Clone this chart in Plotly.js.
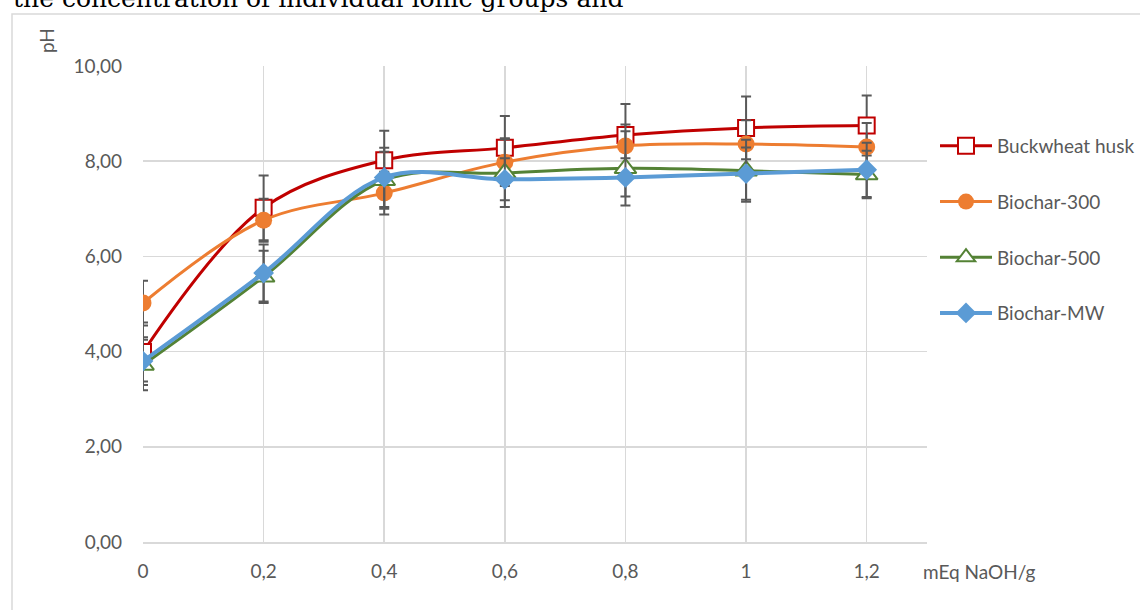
<!DOCTYPE html>
<html>
<head>
<meta charset="utf-8">
<script src="https://cdn.plot.ly/plotly-3.0.1.min.js"></script>
<style>html,body{margin:0;padding:0;background:#fff;}#chart{width:1140px;height:610px;}</style>
</head>
<body>
<div id="chart"></div>
<script>
// Data
const xValues = [0, 0.2, 0.4, 0.6, 0.8, 1, 1.2];
const seriesNames = ["Buckwheat husk", "Biochar-300", "Biochar-500", "Biochar-MW"];
const buckwheat = [3.99, 7.02, 8.02, 8.28, 8.55, 8.70, 8.75];
const buckwheatErr = [0.62, 0.68, 0.62, 0.67, 0.65, 0.66, 0.63];
const biochar300 = [5.02, 6.76, 7.33, 7.98, 8.32, 8.36, 8.30];
const biochar300Err = [0.47, 0.45, 0.45, 0.50, 0.45, 0.50, 0.50];
const biochar500 = [3.72, 5.57, 7.60, 7.75, 7.85, 7.80, 7.72];
const biochar500Err = [0.53, 0.55, 0.60, 0.71, 0.78, 0.65, 0.50];
const biocharMW = [3.80, 5.65, 7.66, 7.62, 7.66, 7.74, 7.82];
const biocharMWErr = [0.50, 0.60, 0.62, 0.44, 0.40, 0.55, 0.57];
const yTicks = [0, 2, 4, 6, 8, 10];
const xTicks = [0, 0.2, 0.4, 0.6, 0.8, 1, 1.2];

const FONT = "Lato, 'Open Sans', sans-serif";
const TXT = "#595959";
const W = 1140, H = 610;
const L = 143, R = 927, T = 66, B = 542;
const px = v => (v - L) / (R - L);
const py = v => (B - v) / (B - T);

function errCfg(arr) {
  return {type: "data", array: arr, visible: true, color: "#595959", thickness: 2, width: 5};
}

const traces = [
  {x: xValues, y: buckwheat, name: seriesNames[0], legendgroup: "a",
   mode: "lines+markers", line: {color: "#C00000", width: 3, shape: "spline", smoothing: 1},
   marker: {symbol: "square", size: 16, color: "#ffffff", line: {color: "#C00000", width: 2}},
   error_y: errCfg(buckwheatErr)},
  {x: xValues, y: biochar300, name: seriesNames[1], legendgroup: "b",
   mode: "lines+markers", line: {color: "#ED7D31", width: 3, shape: "spline", smoothing: 1},
   marker: {symbol: "circle", size: 17, color: "#ED7D31", line: {width: 0}},
   error_y: errCfg(biochar300Err)},
  {x: xValues, y: biochar500, name: seriesNames[2], legendgroup: "c",
   mode: "lines+markers", line: {color: "#548235", width: 3, shape: "spline", smoothing: 1},
   marker: {symbol: "triangle-up", size: 19, color: "#ffffff", line: {color: "#548235", width: 2}},
   error_y: errCfg(biochar500Err)},
  {x: xValues, y: biocharMW, name: seriesNames[3], legendgroup: "d",
   mode: "lines+markers", line: {color: "#5B9BD5", width: 4, shape: "spline", smoothing: 1},
   marker: {symbol: "diamond", size: 16, color: "#5B9BD5", line: {width: 0}},
   error_y: errCfg(biocharMWErr)}
];

const layout = {
  width: W, height: H,
  margin: {l: L, r: W - R, t: T, b: H - B, pad: 0, autoexpand: false},
  paper_bgcolor: "#ffffff", plot_bgcolor: "#ffffff",
  separators: ", ",
  font: {family: FONT, size: 19, color: TXT},
  showlegend: true,
  legend: {x: px(935), y: py(127), xanchor: "left", yanchor: "top",
           font: {family: FONT, size: 19, color: TXT}, tracegroupgap: 28,
           itemwidth: 52, bgcolor: "rgba(0,0,0,0)"},
  xaxis: {range: [0, 1.3], tickvals: xTicks, showgrid: true, gridcolor: "#d9d9d9", gridwidth: 1.5,
          zeroline: false, showline: true, linecolor: "#d9d9d9", linewidth: 1.5,
          ticks: "", ticklabelstandoff: 12, tickfont: {family: FONT, size: 19, color: TXT}},
  yaxis: {range: [0, 10], tickvals: yTicks, tickformat: ".2f", showgrid: true, gridcolor: "#d9d9d9", gridwidth: 1.5,
          zeroline: false, showline: false, ticks: "", ticklabelstandoff: 20,
          tickfont: {family: FONT, size: 19, color: TXT}},
  shapes: [
    {type: "rect", xref: "paper", yref: "paper", x0: px(12), x1: px(1150), y0: py(620), y1: py(14),
     line: {color: "#d9d9d9", width: 1.5}, fillcolor: "rgba(0,0,0,0)", layer: "below"}
  ],
  annotations: [
    {text: "the concentration of individual ionic groups and", xref: "paper", yref: "paper",
     x: px(11), y: py(-2), xanchor: "left", yanchor: "middle", showarrow: false,
     font: {family: "'DejaVu Serif', serif", size: 25, color: "#000000"}},
    {text: "pH", xref: "paper", yref: "paper", x: px(47), y: py(41), xanchor: "center", yanchor: "middle",
     textangle: -90, showarrow: false, font: {family: FONT, size: 19, color: TXT}},
    {text: "mEq NaOH/g", xref: "paper", yref: "paper", x: px(921), y: py(571), xanchor: "left", yanchor: "middle",
     showarrow: false, font: {family: FONT, size: 19, color: TXT}}
  ]
};

Plotly.newPlot("chart", traces, layout, {displayModeBar: false, staticPlot: true});
</script>
</body>
</html>
